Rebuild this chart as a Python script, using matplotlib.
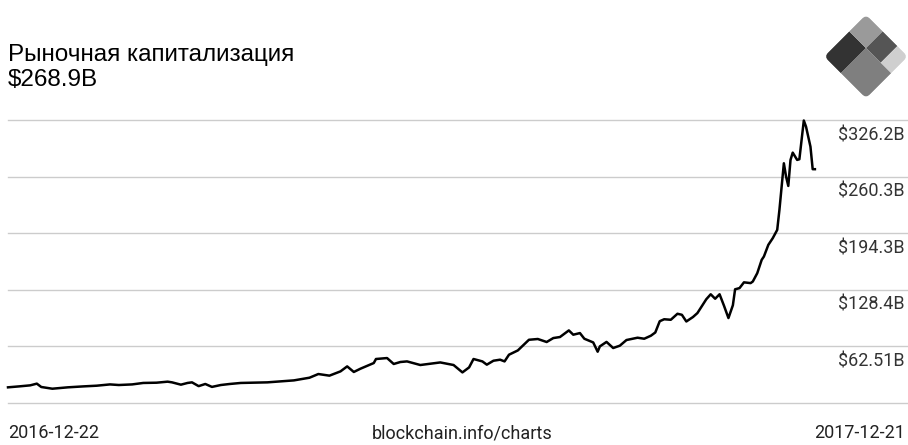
import numpy as np
import matplotlib
matplotlib.use("Agg")
import matplotlib.pyplot as plt
import matplotlib.transforms as mtransforms
from matplotlib.patches import Rectangle, FancyBboxPatch

# ── Data ─────────────────────────────────────────────────────────
START_DATE = "2016-12-22"
END_DATE = "2017-12-21"
DAY_OFFSETS = [0, 5, 10, 13, 15, 20, 27, 34, 40, 46, 50, 56, 61, 67, 72, 74, 78, 81,
               83, 86, 89, 92, 96, 100, 105, 117, 129, 136, 140, 145, 150, 153, 156,
               159, 165, 166, 171, 174, 177, 180, 186, 195, 201, 205, 208, 210, 214,
               216, 219, 222, 224, 226, 230, 235, 239, 243, 246, 249, 253, 255, 258,
               260, 264, 266, 267, 270, 273, 276, 279, 284, 287, 290, 292, 294, 296,
               299, 302, 304, 306, 309, 311, 315, 317, 319, 321, 323, 325, 327, 328,
               330, 332, 335, 336, 338, 340, 341, 343, 345, 347, 348, 350, 351, 352,
               353, 354, 356, 357, 359, 360, 362, 363, 364]
MARKET_CAP_B = [14.8, 15.9, 17.1, 19.1, 15.2, 13.2, 14.8, 15.9, 16.7, 18.2, 17.5, 18.2,
                19.9, 20.2, 21.4, 20.6, 17.9, 19.9, 20.6, 16.2, 18.7, 15.3, 17.5, 18.7,
                19.9, 20.6, 22.9, 26.0, 30.3, 28.4, 33.4, 39.2, 32.7, 36.5, 43.1, 47.8,
                48.9, 42.0, 44.3, 45.0, 40.8, 43.8, 40.8, 32.2, 38.0, 47.8, 45.0, 41.2,
                45.8, 47.0, 45.0, 52.8, 57.8, 70.2, 71.1, 67.6, 72.2, 73.4, 81.1, 76.1,
                78.0, 71.4, 67.1, 56.3, 62.5, 67.7, 60.6, 63.3, 69.9, 72.6, 71.4, 74.9,
                78.7, 91.8, 94.1, 93.5, 100.5, 99.3, 91.5, 96.7, 101.3, 117.4, 123.2,
                118.0, 123.2, 109.8, 95.5, 110.4, 129.0, 130.4, 137.1, 136.2, 138.1,
                147.8, 163.3, 167.2, 180.8, 188.6, 198.2, 221.5, 275.8, 260.2, 249.4,
                279.7, 288.2, 279.7, 280.5, 325.6, 318.4, 295.1, 268.9, 268.9]
GRID_VALUES = [-3.45, 62.51, 128.4, 194.3, 260.3, 326.2]
GRID_LABELS = ["", "$62.51B", "$128.4B", "$194.3B", "$260.3B", "$326.2B"]
TITLE = "Рыночная капитализация"
CURRENT = "$268.9B"
SOURCE = "blockchain.info/charts"

W, H = 908, 445
fig = plt.figure(figsize=(W / 100, H / 100), dpi=100)
fig.patch.set_facecolor("white")

# ── Main chart axes (pixel layout from the reference) ────────────
ax = fig.add_axes([8 / W, (H - 403) / H, 900 / W, 283 / H])
dates = np.datetime64(START_DATE) + np.array(DAY_OFFSETS).astype("timedelta64[D]")
ax.plot(dates, MARKET_CAP_B, color="black", lw=1.8, solid_joinstyle="round",
        clip_on=False, zorder=3)
ax.set_xlim(np.datetime64(START_DATE), np.datetime64(START_DATE) + np.timedelta64(406, "D"))
ax.set_ylim(GRID_VALUES[0], GRID_VALUES[-1])
for v, lab in zip(GRID_VALUES, GRID_LABELS):
    ax.axhline(v, color="#cccccc", lw=1.0, zorder=1, clip_on=False)
    if lab:
        ax.annotate(lab, xy=(1, v), xycoords=("axes fraction", "data"),
                    xytext=(-2.2, -10.8), textcoords="offset points",
                    ha="right", va="center", fontsize=13, color="#333333",
                    family="Roboto")
for s in ax.spines.values():
    s.set_visible(False)
ax.set_xticks([]); ax.set_yticks([])
ax.patch.set_alpha(0)

# ── Header text ──────────────────────────────────────────────────
fig.text(8 / W, 1 - 60.7 / H, TITLE, fontsize=17.5, family="Liberation Sans",
         va="baseline", ha="left", color="black")
fig.text(8 / W, 1 - 86 / H, CURRENT, fontsize=17.5, family="Liberation Sans",
         va="baseline", ha="left", color="black")

# ── Footer text ──────────────────────────────────────────────────
fy = 1 - 433.5 / H
fig.text(8 / W, fy, START_DATE, fontsize=13, family="Roboto", va="center", ha="left", color="#222222")
fig.text(462 / W, fy, SOURCE, fontsize=13, family="Roboto", va="center", ha="center", color="#222222")
fig.text(905 / W, fy, END_DATE, fontsize=13, family="Roboto", va="center", ha="right", color="#222222")

# ── Logo: rounded diamond split into five blocks ────────────────
lg = fig.add_axes([0, 0, 1, 1])
lg.set_xlim(0, W); lg.set_ylim(H, 0)
lg.axis("off")
L, T, B = (824.0, 56.5), (866.0, 14.5), (866.0, 98.5)
M = np.array([[T[0] - L[0], B[0] - L[0], L[0]],
              [T[1] - L[1], B[1] - L[1], L[1]],
              [0, 0, 1]])
tr = mtransforms.Affine2D(M) + lg.transData
clip = FancyBboxPatch((0, 0), 1, 1, boxstyle="round,pad=0,rounding_size=0.1",
                      transform=tr, facecolor="none", edgecolor="none")
lg.add_patch(clip)
blocks = [((0, 0), 0.6, 0.4, "#333333"),
          ((0.6, 0), 0.4, 0.4, "#9a9a9a"),
          ((0.6, 0.4), 0.4, 0.35, "#555555"),
          ((0.6, 0.75), 0.4, 0.25, "#cfcfcf"),
          ((0, 0.4), 0.6, 0.6, "#7f7f7f")]
for xy, w, h, c in blocks:
    r = Rectangle(xy, w, h, transform=tr, facecolor=c, edgecolor="none")
    lg.add_patch(r)
    r.set_clip_path(clip)

fig.savefig("out.png", dpi=100)
